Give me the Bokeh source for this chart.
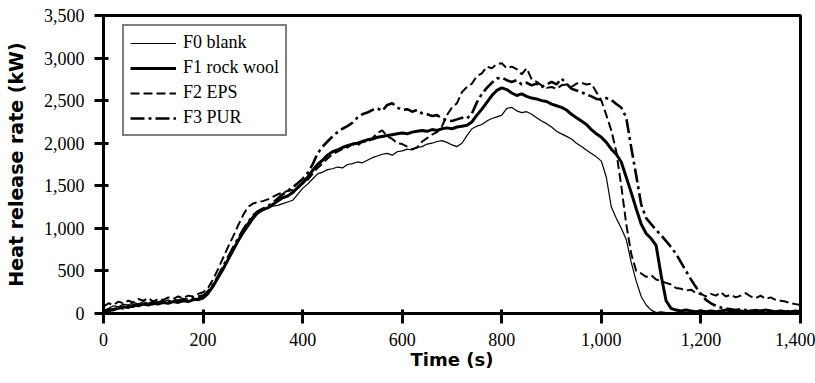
from bokeh.plotting import figure
from bokeh.models import Range1d, NumeralTickFormatter, FixedTicker, Legend, LegendItem
from bokeh.embed import file_html
from bokeh.resources import INLINE

# ---- data ----
time_s = list(range(0, 1401, 10))

f0_blank = [
    20, 60, 90, 80, 110, 100, 130, 110, 140, 120, 150, 130, 140, 160, 130, 150, 170, 140, 160, 150, 170,
    220, 330, 430, 540, 640, 740, 840, 930, 1010, 1100, 1170, 1210, 1240, 1260, 1270, 1290, 1310, 1330, 1400, 1470,
    1520, 1580, 1640, 1660, 1690, 1700, 1720, 1710, 1750, 1760, 1780, 1770, 1800, 1830, 1850, 1870, 1880, 1860, 1900, 1910,
    1930, 1920, 1950, 1960, 1990, 2000, 2020, 2030, 2010, 1980, 1960, 2000, 2090, 2170, 2200, 2220, 2260, 2290, 2310, 2330,
    2410, 2420, 2380, 2360, 2370, 2340, 2300, 2260, 2230, 2190, 2140, 2110, 2080, 2050, 2000, 1960, 1920, 1880, 1840, 1790,
    1600, 1250, 1120, 1000, 870, 600, 380, 200, 100, 40, 10, 20, 10, 0, 10, 20, 10, 0, 10, 20,
    10, 0, 10, 20, 10, 10, 0, 10, 20, 10, 0, 10, 10, 20, 10, 0, 10, 10, 0, 10,
]

f1_rock_wool = [
    10, 30, 50, 60, 80, 70, 100, 90, 110, 100, 120, 110, 130, 120, 140, 130, 150, 140, 160, 170, 190,
    240, 320, 420, 520, 630, 740, 850, 950, 1050, 1130, 1190, 1220, 1240, 1280, 1320, 1360, 1380, 1420, 1480, 1530,
    1600, 1680, 1750, 1800, 1860, 1900, 1920, 1950, 1970, 1990, 2000, 2020, 2040, 2050, 2070, 2080, 2090, 2100, 2110, 2120,
    2110, 2130, 2140, 2150, 2140, 2160, 2150, 2170, 2180, 2170, 2190, 2200, 2210, 2250, 2330, 2400, 2480, 2560, 2620, 2650,
    2630, 2590, 2560, 2580, 2550, 2530, 2520, 2500, 2490, 2460, 2440, 2420, 2390, 2340, 2300, 2260, 2220, 2160, 2110, 2070,
    2010, 1930, 1870, 1780, 1600, 1420, 1230, 1050, 940, 880, 800, 450, 150, 60, 40, 30, 40, 30, 20, 30,
    20, 30, 20, 30, 40, 30, 20, 30, 20, 30, 20, 30, 40, 30, 20, 30, 20, 20, 30, 20,
]

f2_eps = [
    80, 120, 100, 140, 120, 150, 130, 170, 150, 180, 140, 170, 160, 190, 170, 200, 180, 210, 200, 230, 250,
    300, 400, 520, 650, 780, 900, 1030, 1150, 1250, 1290, 1310, 1320, 1340, 1370, 1400, 1420, 1440, 1450, 1470, 1530,
    1570, 1640, 1710, 1760, 1820, 1870, 1900, 1930, 1950, 1990, 1970, 2020, 2010, 2060, 2120, 2150, 2080, 2050, 2000, 1990,
    1960, 1930, 1950, 2020, 2060, 2100, 2130, 2200, 2330, 2420, 2470, 2600, 2660, 2700, 2790, 2820, 2900, 2880, 2930, 2940,
    2880, 2900, 2870, 2810, 2880, 2750, 2720, 2680, 2650, 2660, 2640, 2680, 2690, 2660, 2700, 2710, 2690, 2700, 2600, 2500,
    2330, 2150, 1900, 1500, 1050, 700, 500, 470, 430, 450, 400, 380, 360, 340, 300, 290, 270, 280, 240, 230,
    200, 230, 210, 250, 200, 220, 190, 210, 240, 200, 180, 210, 170, 190, 160, 150, 140, 120, 110, 100,
]

f3_pur = [
    30, 50, 40, 70, 60, 90, 80, 110, 100, 120, 110, 130, 150, 130, 160, 150, 170, 160, 180, 200, 210,
    260, 340, 440, 550, 660, 770, 880, 980, 1070, 1150, 1200, 1230, 1260, 1300, 1350, 1400, 1440, 1480, 1530, 1580,
    1650, 1750, 1880, 1960, 2020, 2080, 2130, 2170, 2200, 2240, 2300, 2340, 2360, 2390, 2410, 2380, 2450, 2470, 2420, 2390,
    2400, 2370, 2390, 2350, 2340, 2320, 2330, 2290, 2270, 2260, 2280, 2300, 2290, 2350, 2480, 2580, 2650, 2710, 2760, 2770,
    2740, 2720, 2740, 2690, 2710, 2680, 2700, 2660, 2690, 2720, 2690, 2760, 2700, 2640, 2620, 2600, 2570, 2550, 2520, 2510,
    2530, 2510, 2460, 2420, 2300, 1950, 1620, 1280, 1120, 1050, 980, 920, 850, 780, 700, 600, 500, 400, 310, 230,
    160, 120, 90, 70, 60, 50, 40, 50, 40, 30, 40, 30, 40, 30, 20, 30, 20, 30, 20, 20,
]

series_labels = ["F0 blank", "F1 rock wool", "F2 EPS", "F3 PUR"]
x_ticks = [0, 200, 400, 600, 800, 1000, 1200, 1400]
y_ticks = [0, 500, 1000, 1500, 2000, 2500, 3000, 3500]

# ---- figure ----
p = figure(width=815, height=383,
           x_range=Range1d(0, 1400), y_range=Range1d(0, 3500),
           output_backend="svg", toolbar_location=None,
           min_border_left=103, min_border_right=15,
           min_border_top=15, min_border_bottom=70,
           background_fill_color="white", border_fill_color="white")

r0 = p.line(time_s, f0_blank, line_color="black", line_width=1.2)
r1 = p.line(time_s, f1_rock_wool, line_color="black", line_width=3)
r2 = p.line(time_s, f2_eps, line_color="black", line_width=2, line_dash="9 4")
r3 = p.line(time_s, f3_pur, line_color="black", line_width=2.6, line_dash="14 4 3 4")

p.xgrid.visible = False
p.ygrid.visible = False
p.outline_line_color = "black"
p.outline_line_width = 3
p.outline_line_alpha = 1

for ax in (p.xaxis[0], p.yaxis[0]):
    ax.axis_line_width = 3
    ax.axis_line_color = "black"
    ax.major_tick_line_width = 3
    ax.major_tick_line_color = "black"
    ax.minor_tick_line_color = None
    ax.major_label_text_font = "Liberation Serif"
    ax.major_label_text_font_size = "18px"
    ax.major_label_text_color = "black"
    ax.axis_label_text_font = "DejaVu Sans"
    ax.axis_label_text_font_style = "bold"
    ax.axis_label_text_color = "black"
    ax.formatter = NumeralTickFormatter(format="0,0")

p.xaxis.ticker = FixedTicker(ticks=x_ticks)
p.yaxis.ticker = FixedTicker(ticks=y_ticks)
p.xaxis.axis_label = "Time (s)"
p.yaxis.axis_label = "Heat release rate (kW)"
p.xaxis.axis_label_text_font_size = "18px"
p.yaxis.axis_label_text_font_size = "19px"
p.xaxis.major_tick_in = 4
p.xaxis.major_tick_out = 10
p.xaxis.major_label_standoff = 9
p.xaxis.axis_label_standoff = 0
p.yaxis.major_tick_in = 5
p.yaxis.major_tick_out = 9
p.yaxis.major_label_standoff = 10
p.yaxis.axis_label_standoff = 14

legend = Legend(items=[
    LegendItem(label=series_labels[0], renderers=[r0]),
    LegendItem(label=series_labels[1], renderers=[r1]),
    LegendItem(label=series_labels[2], renderers=[r2]),
    LegendItem(label=series_labels[3], renderers=[r3]),
], location=(19, 177))
legend.label_text_font = "Liberation Serif"
legend.label_text_font_size = "18px"
legend.label_text_color = "black"
legend.glyph_width = 46
legend.glyph_height = 20
legend.label_height = 20
legend.label_standoff = 7
legend.spacing = 4
legend.padding = 6
legend.margin = 0
legend.border_line_color = "black"
legend.border_line_width = 2
legend.background_fill_alpha = 1
p.add_layout(legend)

open("out.html", "w").write(file_html(p, INLINE))
